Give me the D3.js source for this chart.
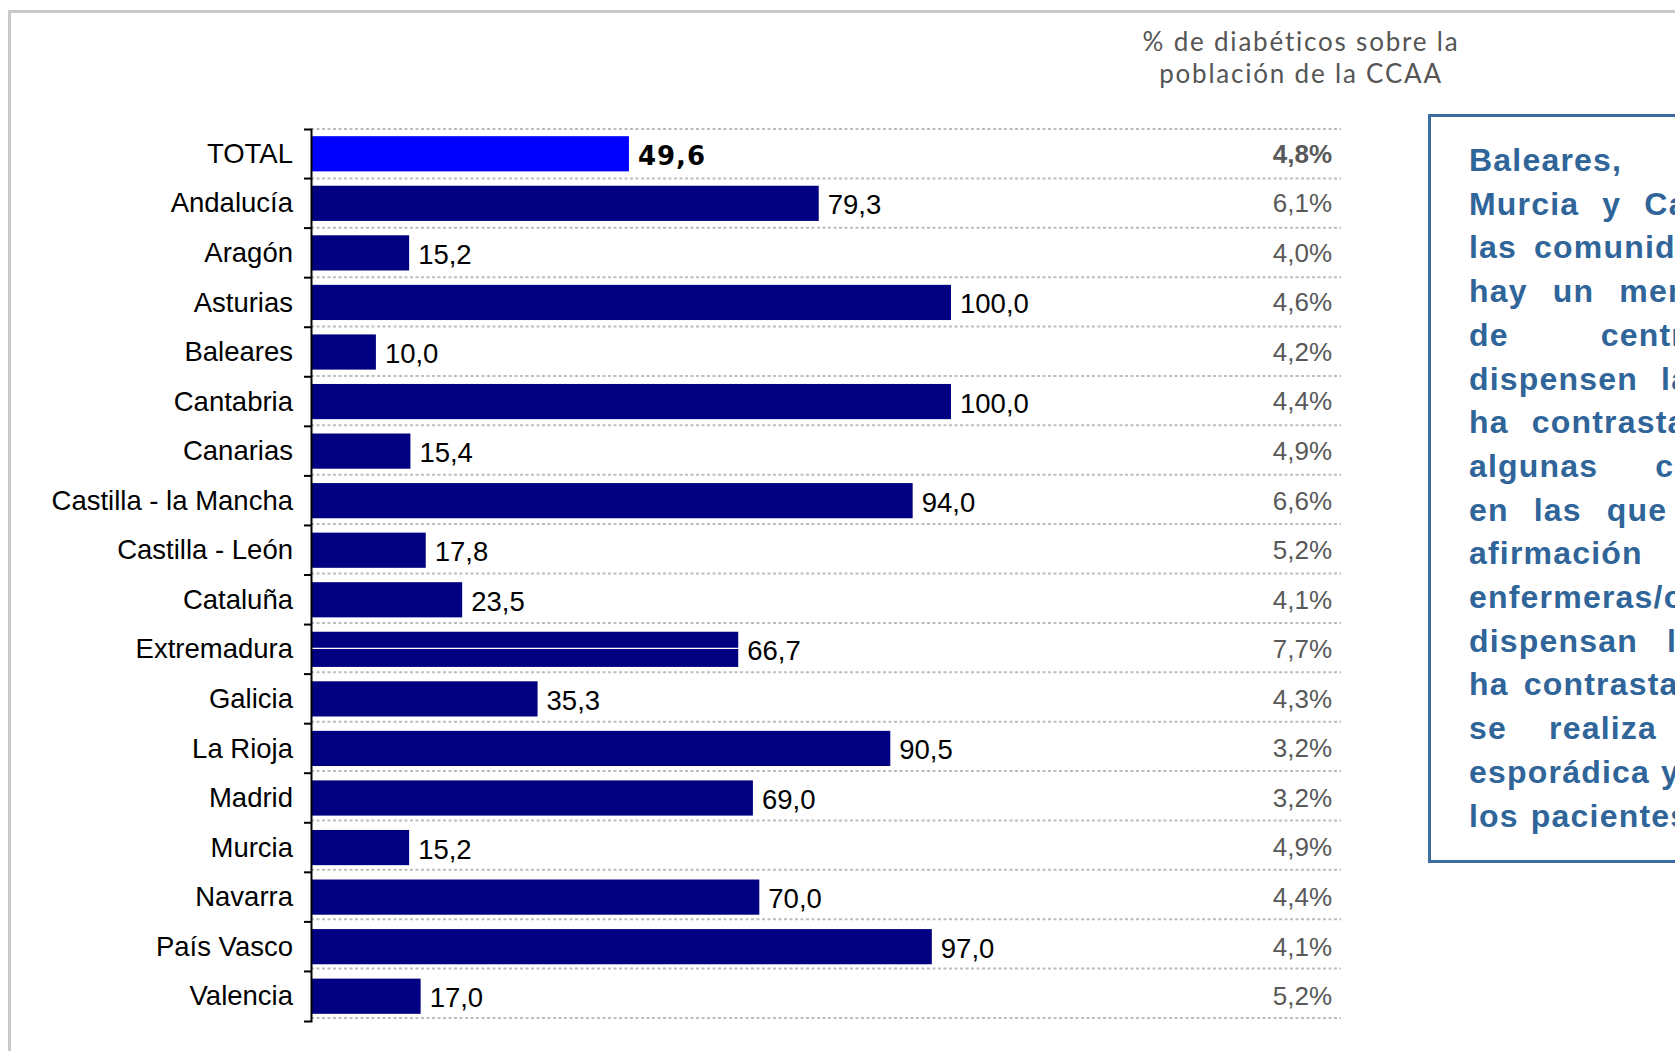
<!DOCTYPE html>
<html>
<head>
<meta charset="utf-8">
<script src="https://cdn.jsdelivr.net/npm/d3@7"></script>
<style>
  body { margin: 0; background: #fff; }
  svg { display: block; }
</style>
</head>
<body>
<svg id="chart" width="1675" height="1051"></svg>
<script>
// ---------- DATA ----------
const categories = ["TOTAL", "Andalucía", "Aragón", "Asturias", "Baleares", "Cantabria",
  "Canarias", "Castilla - la Mancha", "Castilla - León", "Cataluña", "Extremadura",
  "Galicia", "La Rioja", "Madrid", "Murcia", "Navarra", "País Vasco", "Valencia"];
const values = [49.6, 79.3, 15.2, 100.0, 10.0, 100.0, 15.4, 94.0, 17.8, 23.5, 66.7,
  35.3, 90.5, 69.0, 15.2, 70.0, 97.0, 17.0];
const pctLabels = ["4,8%", "6,1%", "4,0%", "4,6%", "4,2%", "4,4%", "4,9%", "6,6%", "5,2%",
  "4,1%", "7,7%", "4,3%", "3,2%", "3,2%", "4,9%", "4,4%", "4,1%", "5,2%"];
const titleLines = ["% de diabéticos sobre la", "población de la CCAA"];
const noteLines = [
  "Baleares, Cantabria,",
  "Murcia y Canarias son",
  "las comunidades en las que",
  "hay un menor número",
  "de centros que",
  "dispensen las tiras. Se",
  "ha contrastado con",
  "algunas comunidades",
  "en las que se hace la",
  "afirmación de que las",
  "enfermeras/os no",
  "dispensan las tiras y se",
  "ha contrastado que esto",
  "se realiza de forma",
  "esporádica y sólo a",
  "los pacientes nuevos."
];

// ---------- LAYOUT ----------
const noteGaps = [70, 23, 17, 25, 92, 23, 23, 57, 25, 45, 10, 29, 15, 42, 11, 12];
const W = 1675;
const fmt = v => d3.format(".1f")(v).replace(".", ",");

const svg = d3.select("#chart");

// outer frame
svg.append("rect")
  .attr("x", 9.5).attr("y", 11.5).attr("width", 1800).attr("height", 1200)
  .attr("fill", "none").attr("stroke", "#c8c8c8").attr("stroke-width", 3);

const axisX = 311;
const x = d3.scaleLinear().domain([0, 100]).range([axisX + 1, 951]);
const y = d3.scaleBand().domain(categories).range([129, 1021])
  .paddingInner(0.29).paddingOuter(0.145);

// table dotted lines (right-hand table)
const n = categories.length;
const tableTop = 129, tableBottom = 1018;
const rowH = (tableBottom - tableTop) / n;
svg.append("g").selectAll("line")
  .data(d3.range(n + 1))
  .join("line")
  .attr("x1", axisX).attr("x2", 1341)
  .attr("y1", i => tableTop + i * rowH).attr("y2", i => tableTop + i * rowH)
  .attr("stroke", "#bdbdbd").attr("stroke-width", 2)
  .attr("stroke-dasharray", "3,2.5");

// bars
svg.append("g").selectAll("rect")
  .data(categories)
  .join("rect")
  .attr("x", x(0))
  .attr("y", d => y(d))
  .attr("width", (d, i) => x(values[i]) - x(0))
  .attr("height", y.bandwidth())
  .attr("fill", (d, i) => i === 0 ? "#0000ff" : "#000080");

// thin white rendering line in Extremadura bar (as in reference)
svg.append("line")
  .attr("x1", x(0)).attr("x2", x(values[10]))
  .attr("y1", y("Extremadura") + y.bandwidth() / 2 - 1)
  .attr("y2", y("Extremadura") + y.bandwidth() / 2 - 1)
  .attr("stroke", "#fff").attr("stroke-width", 1.2);

// value labels
svg.append("g").selectAll("text")
  .data(categories)
  .join("text")
  .attr("x", (d, i) => x(values[i]) + 9)
  .attr("y", d => y(d) + y.bandwidth() / 2)
  .attr("dy", (d, i) => i === 0 ? "0.42em" : "0.40em")
  .attr("font-family", (d, i) => i === 0 ? "'DejaVu Sans', sans-serif" : "'Liberation Sans', Arial, sans-serif")
  .attr("font-weight", (d, i) => i === 0 ? "bold" : "normal")
  .attr("font-size", (d, i) => i === 0 ? 26 : 27.5)
  .attr("letter-spacing", (d, i) => i === 0 ? 1 : 0)
  .attr("fill", "#000")
  .text((d, i) => fmt(values[i]));

// axis
const axis = d3.axisLeft(y).tickSizeInner(0).tickSizeOuter(7).tickPadding(18);
const gAxis = svg.append("g").attr("transform", `translate(${axisX},0)`).call(axis);
gAxis.select(".domain").attr("stroke", "#000").attr("stroke-width", 2);
gAxis.selectAll(".tick text")
  .attr("font-family", "'Liberation Sans', Arial, sans-serif")
  .attr("font-size", 27.5)
  .attr("fill", "#000")
  .attr("dy", "0.33em");
// boundary ticks
gAxis.append("g").selectAll("line")
  .data(d3.range(1, n))
  .join("line")
  .attr("x1", -7).attr("x2", 0)
  .attr("y1", i => y.range()[0] + i * y.step())
  .attr("y2", i => y.range()[0] + i * y.step())
  .attr("stroke", "#000").attr("stroke-width", 2);

// percentage column
svg.append("g").selectAll("text")
  .data(categories)
  .join("text")
  .attr("x", 1332)
  .attr("y", d => y(d) + y.bandwidth() / 2)
  .attr("dy", "0.34em")
  .attr("text-anchor", "end")
  .attr("font-family", "'Liberation Sans', Arial, sans-serif")
  .attr("font-size", 26)
  .attr("font-weight", (d, i) => i === 0 ? "bold" : "normal")
  .attr("fill", "#595959")
  .text((d, i) => pctLabels[i]);

// column title
svg.append("g").selectAll("text")
  .data(titleLines)
  .join("text")
  .attr("x", 1301)
  .attr("y", (d, i) => 51 + i * 32)
  .attr("text-anchor", "middle")
  .attr("font-family", "Lato, 'Open Sans', sans-serif")
  .attr("font-size", 26)
  .attr("letter-spacing", 1.8)
  .attr("fill", "#555")
  .text(d => d);

// note box
svg.append("rect")
  .attr("x", 1429.5).attr("y", 115.5).attr("width", 400).attr("height", 746)
  .attr("fill", "#fff").attr("stroke", "#3c6ca0").attr("stroke-width", 3);

const noteG = svg.append("g")
  .attr("font-family", "'Liberation Sans', Arial, sans-serif")
  .attr("font-weight", "bold")
  .attr("font-size", 32)
  .attr("letter-spacing", 1.2)
  .attr("fill", "#2f6599");

// measure words, then lay out each justified line as one text with positioned tspans
const meas = noteG.append("text").attr("x", -9999).attr("y", -9999);
noteLines.forEach((line, li) => {
  const words = line.split(" ");
  const by = 171 + li * 43.7;
  const t = noteG.append("text").attr("y", by);
  let cx = 1469;
  words.forEach(w => {
    if (cx >= W) return;
    t.append("tspan").attr("x", cx).text(w);
    meas.text(w);
    cx += meas.node().getComputedTextLength() + noteGaps[li];
  });
});
meas.remove();
</script>
</body>
</html>
